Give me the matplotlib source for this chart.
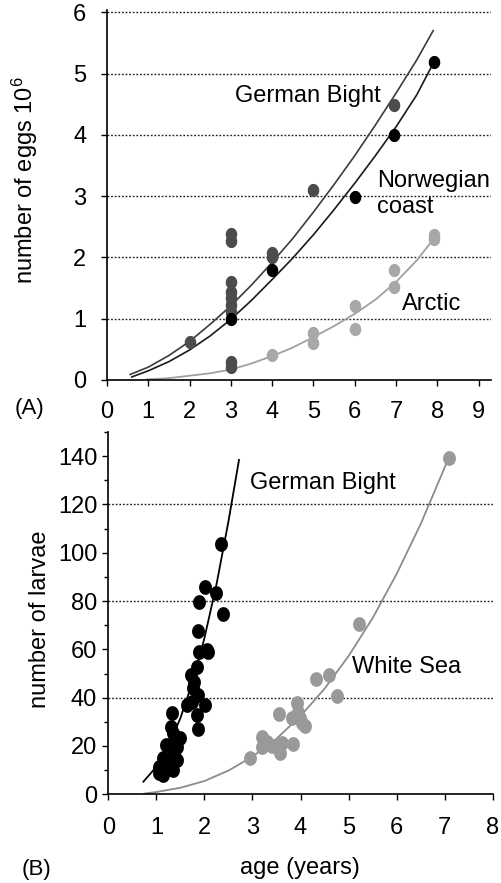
import numpy as np
import matplotlib
matplotlib.use("Agg")
import matplotlib.pyplot as plt

plt.rcParams['font.family'] = ['Liberation Sans', 'DejaVu Sans']
plt.rcParams['mathtext.default'] = 'regular'

# ---------------- Panel A data (number of eggs, 10^6) ----------------
gb_age = [2.0, 3.0, 3.0, 3.0, 3.0, 3.0, 3.0, 3.0, 3.0, 3.0, 4.0, 4.0, 5.0, 6.95]
gb_eggs = [0.62, 2.39, 2.27, 1.60, 1.43, 1.33, 1.23, 1.11, 0.30, 0.21, 2.08, 2.0, 3.1, 4.49]
nw_age = [3.0, 4.0, 6.0, 6.95, 7.92]
nw_eggs = [1.0, 1.79, 2.99, 4.0, 5.19]
ar_age = [4.0, 5.0, 5.0, 6.0, 6.0, 6.95, 6.95, 7.92, 7.92]
ar_eggs = [0.41, 0.76, 0.60, 1.21, 0.83, 1.80, 1.52, 2.36, 2.30]

# fitted curves
gb_fit_x = [0.56, 1.0, 1.5, 2.0, 2.5, 3.0, 3.5, 4.0, 4.5, 5.0, 5.5, 6.0, 6.5, 7.0, 7.5, 7.9]
gb_fit_y = [0.09, 0.21, 0.40, 0.63, 0.91, 1.21, 1.55, 1.92, 2.31, 2.74, 3.19, 3.66, 4.16, 4.68, 5.22, 5.70]
nw_fit_x = [0.60, 1.0, 1.5, 2.0, 2.5, 3.0, 3.5, 4.0, 4.5, 5.0, 5.5, 6.0, 6.5, 7.0, 7.5, 7.92]
nw_fit_y = [0.05, 0.15, 0.30, 0.49, 0.72, 0.99, 1.30, 1.64, 1.99, 2.37, 2.78, 3.21, 3.66, 4.13, 4.65, 5.19]
ar_fit_x = [0.96, 1.5, 2.0, 2.5, 3.0, 3.5, 4.0, 4.5, 5.0, 5.5, 6.0, 6.5, 7.0, 7.5, 7.92]
ar_fit_y = [0.01, 0.03, 0.07, 0.11, 0.17, 0.27, 0.39, 0.53, 0.70, 0.88, 1.08, 1.31, 1.60, 1.95, 2.31]

# ---------------- Panel B data (number of larvae) ----------------
gbl_age = [2.35, 2.01, 2.24, 1.89, 2.38, 1.86, 2.05, 1.89, 2.07, 1.85, 1.73, 1.79,
           1.77, 1.87, 1.74, 1.63, 2.01, 1.84, 1.86, 1.32, 1.30, 1.35, 1.49, 1.21,
           1.42, 1.35, 1.14, 1.42, 1.06, 1.25, 1.06, 1.14, 1.35, 1.28, 1.11]
gbl_larvae = [103.5, 85.9, 83.4, 79.5, 74.6, 67.6, 59.7, 58.8, 59.0, 52.8, 49.4, 46.6,
              43.9, 41.1, 38.3, 37.0, 37.0, 32.8, 26.9, 33.5, 28.0, 25.2, 23.2, 20.4,
              19.7, 16.3, 14.9, 14.2, 11.4, 12.1, 8.7, 8.0, 10.0, 20.4, 11.4]
ws_age = [7.09, 5.22, 4.32, 4.59, 4.77, 3.93, 3.56, 3.95, 3.82, 3.99, 4.03, 4.09,
          3.19, 3.30, 3.19, 3.40, 3.50, 3.61, 3.57, 3.84, 2.95]
ws_larvae = [139, 70.4, 47.6, 49.4, 40.7, 37.7, 33.2, 34.2, 31.4, 31.4, 29.4, 28.3,
             23.8, 21.8, 19.7, 20.0, 20.0, 21.4, 17.0, 20.7, 14.9]

gbl_fit_x = [0.73, 1.0, 1.25, 1.5, 1.75, 2.0, 2.25, 2.5, 2.72]
gbl_fit_y = [5.2, 11.4, 19.9, 31.5, 46.2, 64.6, 86.7, 112.9, 138.4]
ws_fit_x = [0.75, 1.0, 1.5, 2.0, 2.5, 3.0, 3.5, 4.0, 4.5, 5.0, 5.5, 6.0, 6.5, 7.08]
ws_fit_y = [0.3, 0.95, 2.7, 5.5, 9.8, 15.6, 23.0, 32.4, 43.7, 57.2, 72.9, 91.2, 111.8, 139]

# ellipse marker (slightly taller than wide)
t = np.linspace(0, 2 * np.pi, 40)
ell = list(zip(0.86 * np.cos(t), np.sin(t)))

W, H = 502, 883
fig = plt.figure(figsize=(W / 100, H / 100), dpi=100)

def style(ax):
    for s in ('top', 'right'):
        ax.spines[s].set_visible(False)
    for s in ('left', 'bottom'):
        ax.spines[s].set_linewidth(1.2)
    ax.tick_params(axis='both', direction='out', length=4, width=1, labelsize=17)

grid_kw = dict(color='#222222', linewidth=1.0, linestyle=(0, (1.3, 1.3)), zorder=1)

# ---------------- Panel A ----------------
axA = fig.add_axes([107 / W, (H - 380) / H, 384 / W, 369.6 / H])
style(axA)
axA.set_xlim(0, 9.3)
axA.set_ylim(0, 6.03)
axA.set_xticks(range(0, 10))
axA.set_yticks(range(0, 7))
axA.tick_params(axis='x', pad=11)
axA.tick_params(axis='y', pad=11)
for v in range(1, 7):
    axA.axhline(v, **grid_kw)

axA.plot(gb_fit_x, gb_fit_y, color='#3c3c3c', lw=1.2, zorder=2)
axA.plot(nw_fit_x, nw_fit_y, color='#1a1a1a', lw=1.2, zorder=2)
axA.plot(ar_fit_x, ar_fit_y, color='#a0a0a0', lw=1.3, zorder=2)
axA.plot(gb_age, gb_eggs, linestyle='none', marker=ell, markersize=8.5,
         color='#4c4c4c', zorder=3)
axA.plot(nw_age, nw_eggs, linestyle='none', marker=ell, markersize=8.5,
         color='#000000', zorder=4)
axA.plot(ar_age, ar_eggs, linestyle='none', marker=ell, markersize=8.5,
         color='#a8a8a8', zorder=3)

axA.text(3.1, 4.54, 'German Bight', fontsize=17, va='baseline', ha='left')
axA.text(6.54, 3.15, 'Norwegian', fontsize=17, va='baseline', ha='left')
axA.text(6.54, 2.72, 'coast', fontsize=17, va='baseline', ha='left')
axA.text(7.14, 1.15, 'Arctic', fontsize=17, va='baseline', ha='left')

# ---------------- Panel B ----------------
axB = fig.add_axes([108.3 / W, (H - 794.3) / H, 384.4 / W, 150 * 2.416 / H])
style(axB)
axB.set_xlim(0, 8)
axB.set_ylim(0, 150)
axB.set_xticks(range(0, 9))
axB.set_yticks(range(0, 141, 20))
axB.set_yticks(range(10, 151, 20), minor=True)
axB.tick_params(axis='y', which='minor', direction='out', length=3, width=1)
axB.tick_params(axis='x', pad=12)
axB.tick_params(axis='y', pad=4)
for v in (40, 80, 120):
    axB.axhline(v, **grid_kw)

axB.plot(gbl_fit_x, gbl_fit_y, color='#000000', lw=1.3, zorder=2)
axB.plot(ws_fit_x, ws_fit_y, color='#8c8c8c', lw=1.3, zorder=2)
axB.plot(gbl_age, gbl_larvae, linestyle='none', marker=ell, markersize=9.6,
         color='#000000', zorder=3)
axB.plot(ws_age, ws_larvae, linestyle='none', marker=ell, markersize=9.6,
         color='#999999', zorder=3)

axB.text(2.95, 126.2, 'German Bight', fontsize=17, va='baseline', ha='left')
axB.text(5.07, 50.1, 'White Sea', fontsize=17, va='baseline', ha='left')

# ---------------- figure labels ----------------
fig.text(25 / W, 1 - 180 / H, 'number of eggs 10$^{6}$', rotation=90,
         fontsize=17, ha='center', va='center')
fig.text(40 / W, 1 - 619 / H, 'number of larvae', rotation=90,
         fontsize=17, ha='center', va='center')
fig.text(300 / W, 1 - 868 / H, 'age (years)', fontsize=17, ha='center', va='center')
fig.text(15 / W, 1 - 408 / H, '(A)', fontsize=16, ha='left', va='center')
fig.text(22 / W, 1 - 870 / H, '(B)', fontsize=16, ha='left', va='center')

fig.savefig('out.png', dpi=100)
